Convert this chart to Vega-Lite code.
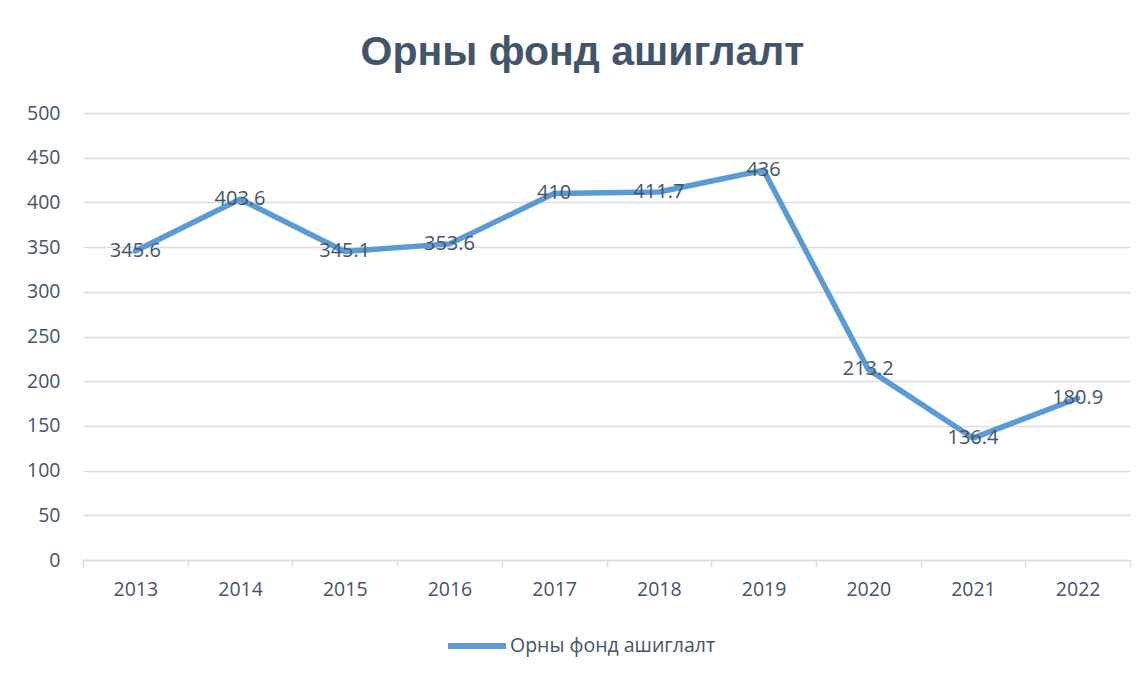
{
  "$schema": "https://vega.github.io/schema/vega-lite/v6.json",
  "autosize": {"type": "none"},
  "width": 1047,
  "height": 447,
  "padding": {"left": 83, "top": 113, "right": 15, "bottom": 117},
  "background": "white",
  "title": {
    "text": "Орны фонд ашиглалт",
    "anchor": "middle",
    "dx": -24,
    "offset": 29,
    "fontSize": 41,
    "font": "Liberation Sans",
    "fontWeight": "bold",
    "color": "#44546A"
  },
  "data": {
    "values": [
      {"year": "2013", "value": 345.6, "series": "Орны фонд ашиглалт"},
      {"year": "2014", "value": 403.6, "series": "Орны фонд ашиглалт"},
      {"year": "2015", "value": 345.1, "series": "Орны фонд ашиглалт"},
      {"year": "2016", "value": 353.6, "series": "Орны фонд ашиглалт"},
      {"year": "2017", "value": 410, "series": "Орны фонд ашиглалт"},
      {"year": "2018", "value": 411.7, "series": "Орны фонд ашиглалт"},
      {"year": "2019", "value": 436, "series": "Орны фонд ашиглалт"},
      {"year": "2020", "value": 213.2, "series": "Орны фонд ашиглалт"},
      {"year": "2021", "value": 136.4, "series": "Орны фонд ашиглалт"},
      {"year": "2022", "value": 180.9, "series": "Орны фонд ашиглалт"}
    ]
  },
  "encoding": {
    "x": {
      "field": "year",
      "type": "ordinal",
      "scale": {"paddingInner": 0, "paddingOuter": 0},
      "axis": {
        "title": null,
        "labelAngle": 0,
        "tickBand": "extent",
        "domainColor": "#D9DEE6",
        "domainWidth": 1.5,
        "tickColor": "#D9DEE6",
        "tickWidth": 1.5,
        "tickSize": 7,
        "labelPadding": 13,
        "labelFontSize": 19.5,
        "labelFont": "Open Sans",
        "labelColor": "#44546A",
        "grid": false
      }
    },
    "y": {
      "field": "value",
      "type": "quantitative",
      "scale": {"domain": [0, 500], "nice": false},
      "axis": {
        "title": null,
        "values": [0, 50, 100, 150, 200, 250, 300, 350, 400, 450, 500],
        "domain": false,
        "ticks": false,
        "labelPadding": 23,
        "labelFontSize": 19.5,
        "labelFont": "Open Sans",
        "labelColor": "#44546A",
        "gridColor": "#D9DEE6",
        "gridWidth": 1.5
      }
    }
  },
  "layer": [
    {
      "mark": {"type": "line", "strokeWidth": 5.5, "strokeCap": "round", "strokeJoin": "round"},
      "encoding": {
        "color": {
          "field": "series",
          "type": "nominal",
          "scale": {"range": ["#5B9BD5"]},
          "legend": {
            "title": null,
            "orient": "none",
            "legendX": 362,
            "legendY": 501,
            "symbolType": "stroke",
            "symbolSize": 3364,
            "symbolStrokeWidth": 6,
            "labelFontSize": 19.5,
            "labelFont": "Open Sans",
            "labelColor": "#44546A",
            "labelOffset": 1,
            "labelLimit": 0
          }
        }
      }
    },
    {
      "mark": {"type": "text", "fontSize": 20, "font": "Open Sans", "color": "#44546A"},
      "encoding": {"text": {"field": "value", "type": "quantitative"}}
    }
  ],
  "config": {"view": {"stroke": null}}
}
